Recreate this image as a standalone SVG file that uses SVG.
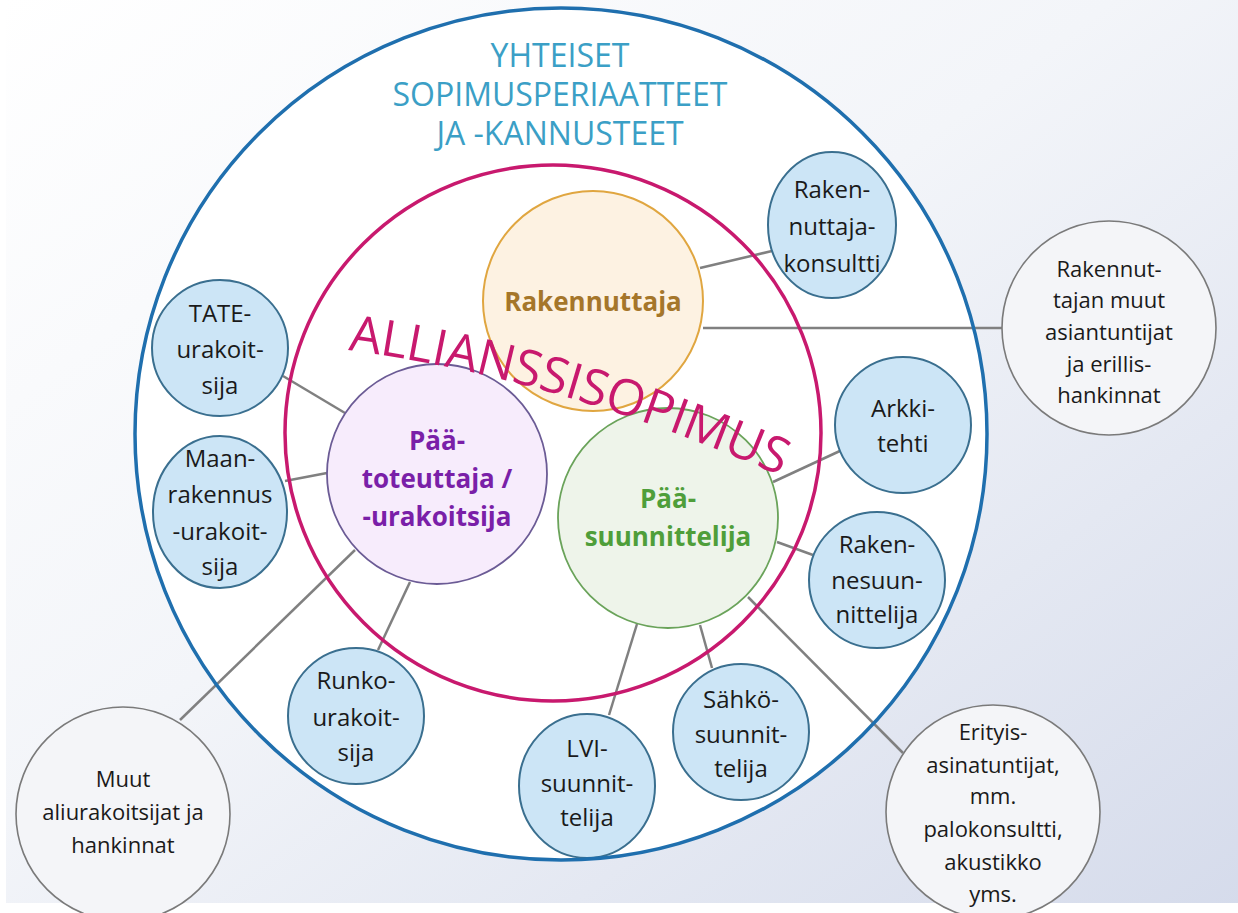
<svg xmlns="http://www.w3.org/2000/svg" width="1238" height="913" viewBox="0 0 1238 913">
<defs>
<linearGradient id="bg" x1="0" y1="0" x2="1" y2="1">
<stop offset="0" stop-color="#ffffff"/>
<stop offset="0.45" stop-color="#f3f5f9"/>
<stop offset="1" stop-color="#d5dbeb"/>
</linearGradient>
<path id="arc" d="M 348 350 Q 560 378 790 480"/>
<style>
text{font-family:"Open Sans","Liberation Sans",sans-serif;text-anchor:middle}
.blue{fill:#cce5f6;stroke:#3a6f8f;stroke-width:2}
.gray{fill:#f4f5f8;stroke:#7a7a7a;stroke-width:1.6}
.t{font-size:24px;fill:#1a1a1a}
.g{font-size:22px;fill:#1a1a1a}
.con line{stroke:#808080;stroke-width:2.5}
.main{font-size:26px;font-weight:700}
.title{font-size:32px;font-weight:400;fill:#3b9fc6}
</style>
</defs>
<rect width="1238" height="913" fill="url(#bg)"/>
<rect x="0" y="903" width="1238" height="10" fill="#ffffff"/>
<rect x="0" y="0" width="6" height="913" fill="#ffffff"/>
<circle cx="561" cy="434" r="426" fill="#ffffff"/>

<g id="connectors" class="con">
<line x1="700" y1="268" x2="772" y2="251"/>
<line x1="703" y1="328" x2="1003" y2="328"/>
<line x1="283" y1="376" x2="345" y2="413"/>
<line x1="285" y1="481" x2="327" y2="473"/>
<line x1="355" y1="550" x2="180" y2="720"/>
<line x1="410" y1="582" x2="378" y2="650"/>
<line x1="773" y1="482" x2="842" y2="450"/>
<line x1="777" y1="542" x2="813" y2="555"/>
<line x1="637" y1="624" x2="609" y2="715"/>
<line x1="700" y1="625" x2="712" y2="668"/>
<line x1="748" y1="597" x2="903" y2="753"/>
</g>

<g id="title">
<text class="title" x="560" y="67">YHTEISET</text>
<text class="title" x="560" y="106">SOPIMUSPERIAATTEET</text>
<text class="title" x="560" y="145">JA -KANNUSTEET</text>
</g>

<g id="rakennuttaja">
<circle cx="593" cy="301" r="110" fill="#fdf2e2" stroke="#e0a640" stroke-width="2"/>
<text class="main" x="593" y="311" fill="#a5762a">Rakennuttaja</text>
</g>
<g id="paatoteuttaja">
<circle cx="437" cy="474" r="110" fill="#f7ecfc" stroke="#6b5b95" stroke-width="1.8"/>
<text class="main" x="437" y="450" fill="#7a1fa8">Pää-</text>
<text class="main" x="437" y="488" fill="#7a1fa8">toteuttaja /</text>
<text class="main" x="437" y="526" fill="#7a1fa8">-urakoitsija</text>
</g>
<g id="paasuunnittelija">
<circle cx="668" cy="518" r="110" fill="#eef4ea" stroke="#6aa35a" stroke-width="1.8"/>
<text class="main" x="668" y="508" fill="#4f9e3a">Pää-</text>
<text class="main" x="668" y="546" fill="#4f9e3a">suunnittelija</text>
</g>

<g id="rakennuttajakonsultti">
<ellipse class="blue" cx="832" cy="225" rx="64" ry="73"/>
<text class="t" x="832" y="198">Raken-</text>
<text class="t" x="832" y="235">nuttaja-</text>
<text class="t" x="832" y="272">konsultti</text>
</g>
<g id="tate">
<circle class="blue" cx="220" cy="348" r="68"/>
<text class="t" x="220" y="322">TATE-</text>
<text class="t" x="220" y="358">urakoit-</text>
<text class="t" x="220" y="394">sija</text>
</g>
<g id="maanrakennus">
<ellipse class="blue" cx="220" cy="512" rx="67" ry="76"/>
<text class="t" x="220" y="467">Maan-</text>
<text class="t" x="220" y="503">rakennus</text>
<text class="t" x="220" y="540">-urakoit-</text>
<text class="t" x="220" y="575">sija</text>
</g>
<g id="runko">
<circle class="blue" cx="356" cy="716" r="68"/>
<text class="t" x="356" y="689">Runko-</text>
<text class="t" x="356" y="726">urakoit-</text>
<text class="t" x="356" y="761">sija</text>
</g>
<g id="lvi">
<ellipse class="blue" cx="587" cy="786" rx="68" ry="72"/>
<text class="t" x="587" y="757">LVI-</text>
<text class="t" x="587" y="792">suunnit-</text>
<text class="t" x="587" y="826">telija</text>
</g>
<g id="sahko">
<circle class="blue" cx="741" cy="732" r="68"/>
<text class="t" x="741" y="708">Sähkö-</text>
<text class="t" x="741" y="743">suunnit-</text>
<text class="t" x="741" y="777">telija</text>
</g>
<g id="rakennesuunnittelija">
<circle class="blue" cx="877" cy="580" r="68"/>
<text class="t" x="877" y="553">Raken-</text>
<text class="t" x="877" y="589">nesuun-</text>
<text class="t" x="877" y="623">nittelija</text>
</g>
<g id="arkkitehti">
<circle class="blue" cx="903" cy="425" r="68"/>
<text class="t" x="903" y="417">Arkki-</text>
<text class="t" x="903" y="452">tehti</text>
</g>

<g id="rakennuttajan-muut">
<circle class="gray" cx="1109" cy="328" r="107"/>
<text class="g" x="1109" y="277">Rakennut-</text>
<text class="g" x="1109" y="308">tajan muut</text>
<text class="g" x="1109" y="340">asiantuntijat</text>
<text class="g" x="1109" y="372">ja erillis-</text>
<text class="g" x="1109" y="403">hankinnat</text>
</g>
<g id="muut-aliurakoitsijat">
<circle class="gray" cx="123" cy="814" r="107"/>
<text class="g" x="123" y="787">Muut</text>
<text class="g" x="123" y="820">aliurakoitsijat ja</text>
<text class="g" x="123" y="853">hankinnat</text>
</g>
<g id="erityisasiantuntijat">
<circle class="gray" cx="993" cy="812" r="107"/>
<text class="g" x="993" y="740">Erityis-</text>
<text class="g" x="993" y="773">asinatuntijat,</text>
<text class="g" x="993" y="804">mm.</text>
<text class="g" x="993" y="837">palokonsultti,</text>
<text class="g" x="993" y="870">akustikko</text>
<text class="g" x="993" y="902">yms.</text>
</g>

<g id="rings" fill="none">
<circle cx="561" cy="434" r="426" stroke="#1f6fae" stroke-width="3.5"/>
<circle cx="553" cy="433" r="268" stroke="#c8196e" stroke-width="3.5"/>
</g>

<g id="allianssisopimus">
<text font-size="50" font-weight="400" fill="#c8196e" style="text-anchor:start"><textPath href="#arc" textLength="452" lengthAdjust="spacing">ALLIANSSISOPIMUS</textPath></text>
</g>
</svg>
